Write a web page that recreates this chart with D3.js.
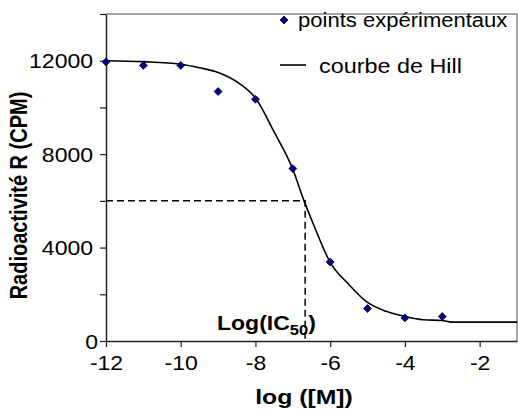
<!DOCTYPE html>
<html><head><meta charset="utf-8">
<script src="https://cdn.jsdelivr.net/npm/d3@7"></script>
<style>body{margin:0;background:#fff}svg{display:block}text{font-family:"Liberation Sans",Arial,sans-serif}</style>
</head><body>
<svg id="c" width="518" height="411"></svg>
<script>
// Experimental points
const logM = [-12, -11, -10, -9, -8, -7, -6, -5, -4, -3];
const cpm = [11950, 11800, 11800, 10680, 10350, 7380, 3380, 1390, 990, 1050];
// Hill curve
const hillX = [-12, -11, -10, -9.5, -9, -8.5, -8, -7.5, -7, -6.7, -6.5, -6, -5.5, -5, -4.5, -4, -3.5, -3, -2.75, -1];
const hillY = [12000, 11960, 11850, 11700, 11500, 11100, 10400, 8950, 7350, 6000, 5200, 3370, 2420, 1650, 1270, 1050, 910, 880, 810, 810];
// IC50 marker
const ic50X = [-6.67];
const ic50Y = [6000];
// Axis ticks
const xTicks = [-12, -10, -8, -6, -4, -2];
const yTicks = [0, 2000, 4000, 6000, 8000, 10000, 12000, 14000];
const yLabels = [0, 4000, 8000, 12000];
const legendLabels = ["points expérimentaux", "courbe de Hill"];

const svg = d3.select("#c");
const m = {l:106, t:14, r:1, b:70};
const W = 518, H = 411;
const x = d3.scaleLinear().domain([-12, -1]).range([m.l, W - m.r]);
const y = d3.scaleLinear().domain([0, 14000]).range([H - m.b, m.t]);
const fs = 19.5;
const sx = 1.18; // horizontal stretch of the original picture's text

function stext(px, py, str, size, bold, anchor, s) {
  return svg.append("text")
    .attr("transform", `translate(${px},${py}) scale(${s || sx},1)`)
    .attr("font-size", size).attr("font-weight", bold ? "bold" : null)
    .attr("text-anchor", anchor || "start").attr("fill","#000").text(str);
}

// top/right border
svg.append("path")
  .attr("d", `M${x(-12)},${y(14000)}H${x(-1)}V${y(0)}`)
  .attr("fill","none").attr("stroke","#888").attr("stroke-width",1.5);

// x axis
const xa = svg.append("g").attr("transform",`translate(0,${y(0)})`)
  .call(d3.axisBottom(x).tickValues(xTicks).tickSize(6).tickSizeOuter(0).tickFormat(d => String(d)));
xa.select(".domain").attr("stroke","#222").attr("stroke-width",1.5);
xa.selectAll(".tick line").attr("stroke","#222").attr("stroke-width",1.2);
xa.selectAll("text").attr("font-size",fs).attr("fill","#000").attr("y",10).attr("dy","1em")
  .attr("transform",`scale(${sx},1)`);

// y axis
const ya = svg.append("g").attr("transform",`translate(${x(-12)},0)`)
  .call(d3.axisLeft(y).tickValues(yTicks).tickSize(6).tickSizeOuter(0)
    .tickFormat(d => yLabels.includes(d) ? String(d) : ""));
ya.select(".domain").attr("stroke","#222").attr("stroke-width",1.5);
ya.selectAll(".tick line").attr("stroke","#222").attr("stroke-width",1.2);
ya.selectAll("text").attr("font-size",fs).attr("fill","#000")
  .attr("x", d => (d === 0 ? -8 : -13) / sx).attr("dy","0.36em")
  .attr("transform",`scale(${sx},1)`);

// dashed IC50 lines
svg.append("path")
  .attr("d", `M${x(-12)},${y(ic50Y[0])}H${x(ic50X[0])}V${y(0)}`)
  .attr("fill","none").attr("stroke","#000").attr("stroke-width",1.5).attr("stroke-dasharray","7,4");

// Hill curve
const line = d3.line().x(d=>x(d[0])).y(d=>y(d[1])).curve(d3.curveMonotoneX);
svg.append("path").datum(hillX.map((v,i)=>[v,hillY[i]]))
  .attr("d", line).attr("fill","none").attr("stroke","#000").attr("stroke-width",1.6);

// diamonds
const diamond = d3.symbol().type(d3.symbolDiamond2).size(40);
svg.append("g").selectAll("path").data(logM).join("path")
  .attr("d", diamond).attr("transform",(d,i)=>`translate(${x(d)},${y(cpm[i])})`)
  .attr("fill","#000080").attr("stroke","#000033").attr("stroke-width",0.8);

// IC50 label
const lt = stext(217, 330, null, fs, true);
lt.append("tspan").text("Log(IC");
lt.append("tspan").attr("font-size",14).attr("dy",5).text("50");
lt.append("tspan").attr("dy",-5).text(")");

// legend
svg.append("path").attr("d", diamond).attr("transform","translate(284,20)")
  .attr("fill","#000080").attr("stroke","#000033").attr("stroke-width",0.8);
stext(298, 27, legendLabels[0], fs, false, "start", 1.13);
svg.append("line").attr("x1",280).attr("x2",306).attr("y1",65).attr("y2",65).attr("stroke","#000").attr("stroke-width",1.6);
stext(319, 73, legendLabels[1], fs, false, "start", 1.2);

// axis titles
stext(x(-6.7), 404, "log ([M])", 21, true, "middle");
svg.append("text").attr("transform",`translate(27,${(y(0)+y(14000))/2 + 18}) rotate(-90) scale(1,${sx})`)
  .attr("text-anchor","middle").attr("font-size",20).attr("font-weight","bold").text("Radioactivité R (CPM)");
</script>
</body></html>
